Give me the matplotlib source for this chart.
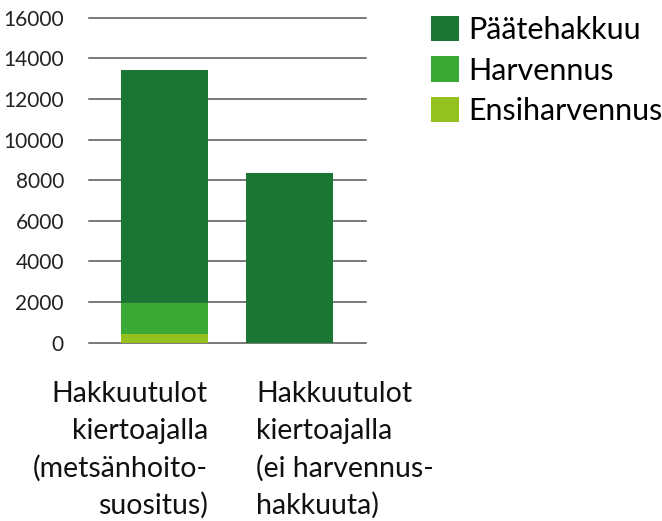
import matplotlib
matplotlib.use("Agg")
import matplotlib.pyplot as plt
import matplotlib.transforms as mtransforms
from matplotlib.patches import Patch

plt.rcParams['font.family'] = ['Lato', 'DejaVu Sans']

# data
categories = ['Hakkuutulot\nkiertoajalla\n(metsänhoito-\nsuositus)',
              'Hakkuutulot\nkiertoajalla\n(ei harvennus-\nhakkuuta)']
ensiharvennus = [440, 0]
harvennus = [1510, 0]
paatehakkuu = [11475, 8355]
series_names = ['Päätehakkuu', 'Harvennus', 'Ensiharvennus']
colors = ['#1b7634', '#3aa935', '#95c11f']
yticks = [0, 2000, 4000, 6000, 8000, 10000, 12000, 14000, 16000]

fig = plt.figure(figsize=(6.62, 5.21), dpi=100)
ax = fig.add_axes([89 / 662, 1 - 342.7 / 521, (366 - 89) / 662, (342.7 - 17.7) / 521])

x = [0, 1]
w = 0.696
bottom2 = [a + b for a, b in zip(ensiharvennus, harvennus)]
ax.bar(x, ensiharvennus, width=w, color=colors[2], zorder=3)
ax.bar(x, harvennus, width=w, bottom=ensiharvennus, color=colors[1], zorder=3)
ax.bar(x, paatehakkuu, width=w, bottom=bottom2, color=colors[0], zorder=3)

ax.set_xlim(-0.604, 1.612)
ax.set_ylim(0, 16000)
ax.set_yticks(yticks)
ax.set_yticklabels([str(t) for t in yticks], fontsize=15, color='#222222')
ax.tick_params(axis='y', length=0, pad=18)
ax.set_xticks([])
for s in ax.spines.values():
    s.set_visible(False)
for t in yticks:
    ax.axhline(t, color='#555555', lw=1.1, zorder=1, clip_on=False)

# category labels below bars
trans = mtransforms.blended_transform_factory(ax.transData, fig.transFigure)
ax.text(x[0] + w / 2, 1 - 381 / 521, categories[0], transform=trans, ha='right', va='top',
        fontsize=20.5, linespacing=1.5, color='#111111')
ax.text(x[1] - w / 2 + 0.08, 1 - 381 / 521, categories[1], transform=trans, ha='left', va='top',
        fontsize=20.5, linespacing=1.5, color='#111111')

handles = [Patch(facecolor=c) for c in colors]
fig.legend(handles, series_names, loc='upper left', bbox_to_anchor=(431 / 662, 1 - 16 / 521),
           bbox_transform=fig.transFigure, frameon=False, fontsize=22, borderpad=0,
           handlelength=0.9, handleheight=0.9, handletextpad=0.33, labelspacing=0.4,
           borderaxespad=0)

fig.savefig('out.png', dpi=100)
